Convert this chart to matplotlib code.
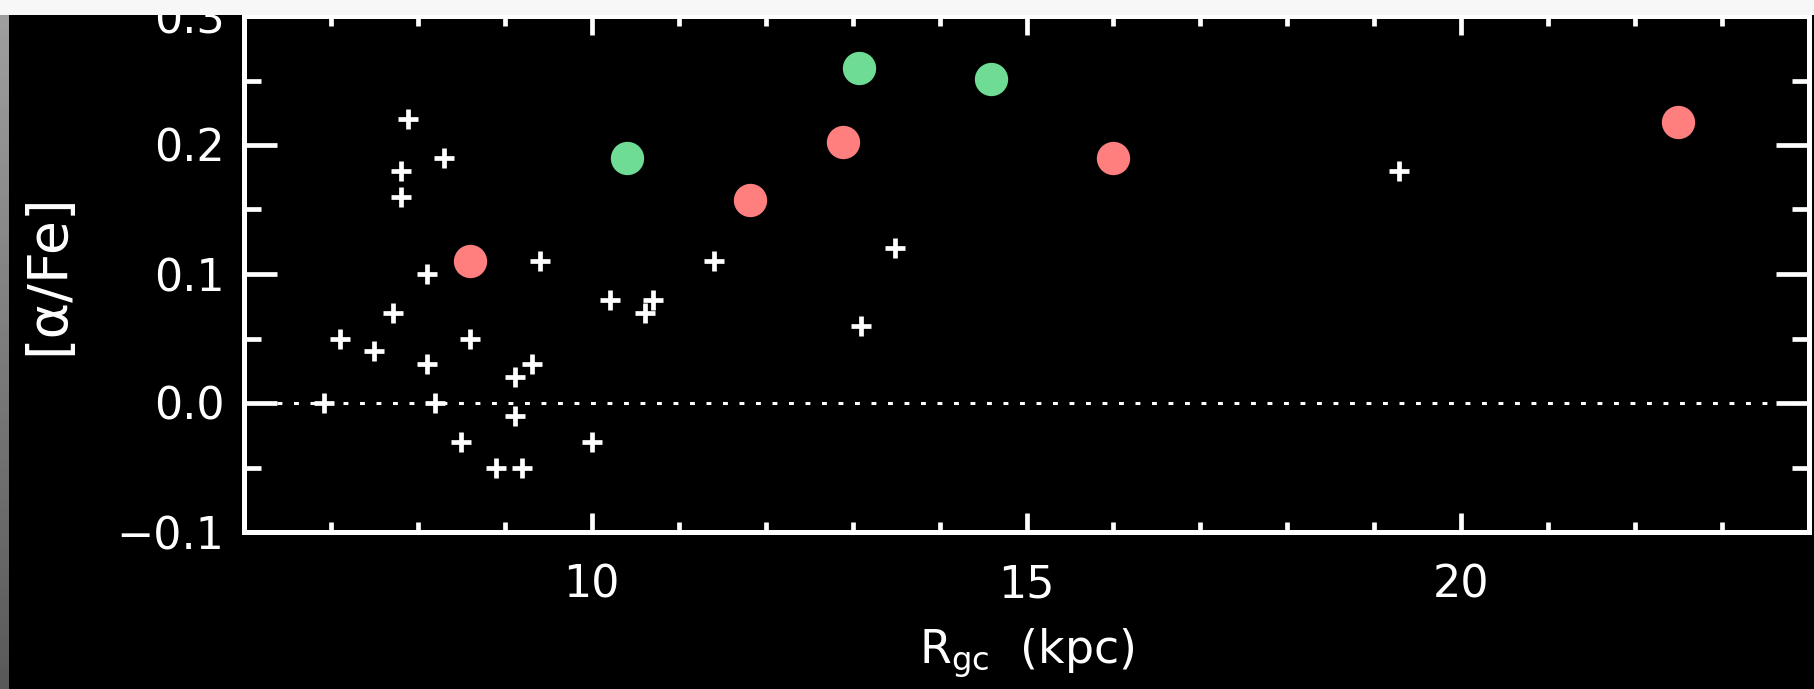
import numpy as np
import matplotlib.pyplot as plt
from matplotlib.patches import Rectangle
from matplotlib.ticker import MultipleLocator

plt.rcParams['font.family'] = ['DejaVu Sans']
plt.rcParams['mathtext.fontset'] = 'dejavusans'

#%% data
# white crosses
cross_r = [6.92, 7.10, 7.50, 7.71, 7.81, 7.81, 7.89, 8.10, 8.10, 8.20,
           8.30, 8.50, 8.60, 8.90, 9.12, 9.12, 9.20, 9.31, 9.40, 10.0,
           10.21, 10.61, 10.70, 11.40, 13.10, 13.49, 19.29]
cross_af = [0.00, 0.05, 0.04, 0.07, 0.16, 0.18, 0.22, 0.10, 0.03, 0.00,
            0.19, -0.03, 0.05, -0.05, 0.02, -0.01, -0.05, 0.03, 0.11, -0.03,
            0.08, 0.07, 0.08, 0.11, 0.06, 0.12, 0.18]

# red circles
red_r = [8.60, 11.82, 12.89, 15.99, 22.49]
red_af = [0.110, 0.157, 0.202, 0.190, 0.218]

# green circles
green_r = [10.40, 13.07, 14.59]
green_af = [0.190, 0.260, 0.251]

W, H = 1815, 689

#%% figure
fig = plt.figure(figsize=(W/100, H/100), dpi=100, facecolor='black')
ax = fig.add_axes([244/W, 1-532/H, (1809-244)/W, (532-16)/H])
ax.set_facecolor('black')

ax.axhline(0, color='white', lw=2.2, dashes=(1.6, 3.8), zorder=1)

ax.plot(cross_r, cross_af, ls='none', marker='+', ms=15, mew=3.4,
        color='white', zorder=3)
ax.plot(red_r, red_af, ls='none', marker='o', ms=24, mew=0,
        color='#ff7f7f', zorder=4)
ax.plot(green_r, green_af, ls='none', marker='o', ms=24, mew=0,
        color='#6fdc96', zorder=4)

ax.set_xlim(6, 24)
ax.set_ylim(-0.1, 0.3)
ax.xaxis.set_major_locator(MultipleLocator(5))
ax.xaxis.set_minor_locator(MultipleLocator(1))
ax.yaxis.set_minor_locator(MultipleLocator(0.05))
ax.set_yticks([-0.1, 0.0, 0.1, 0.2, 0.3])
ax.set_yticklabels(['\u22120.1', '0.0', '0.1', '0.2', '0.3'])

for s in ax.spines.values():
    s.set_color('white')
    s.set_linewidth(3.6)

ax.tick_params(axis='both', which='both', direction='in', colors='white',
               top=True, right=True, width=3.4, labelsize=32)
ax.tick_params(axis='x', which='major', length=14, pad=23)
ax.tick_params(axis='x', which='minor', length=7)
ax.tick_params(axis='y', which='major', length=24, pad=14)
ax.tick_params(axis='y', which='minor', length=12)

ax.set_xlabel(r'R$_{\rm gc}$  (kpc)', color='white', fontsize=33,
              va='baseline')
ax.xaxis.set_label_coords(0.5, (532-664)/516)
ax.set_ylabel('[\u03b1/Fe]', color='white', fontsize=40, va='center')
ax.yaxis.set_label_coords((48-244)/1565, 0.5)

# screenshot borders
fig.patches.append(Rectangle((0, 1-15/H), 1, 15/H, transform=fig.transFigure,
                             facecolor='#f7f7f7', edgecolor='none', zorder=10))
grad = fig.add_axes([0, 0, 9/W, 1-15/H])
grad.imshow(np.linspace(0.62, 0.35, 100).reshape(-1, 1), cmap='gray',
            vmin=0, vmax=1, aspect='auto')
grad.set_axis_off()

fig.savefig('out.png', dpi=100, facecolor='black')
